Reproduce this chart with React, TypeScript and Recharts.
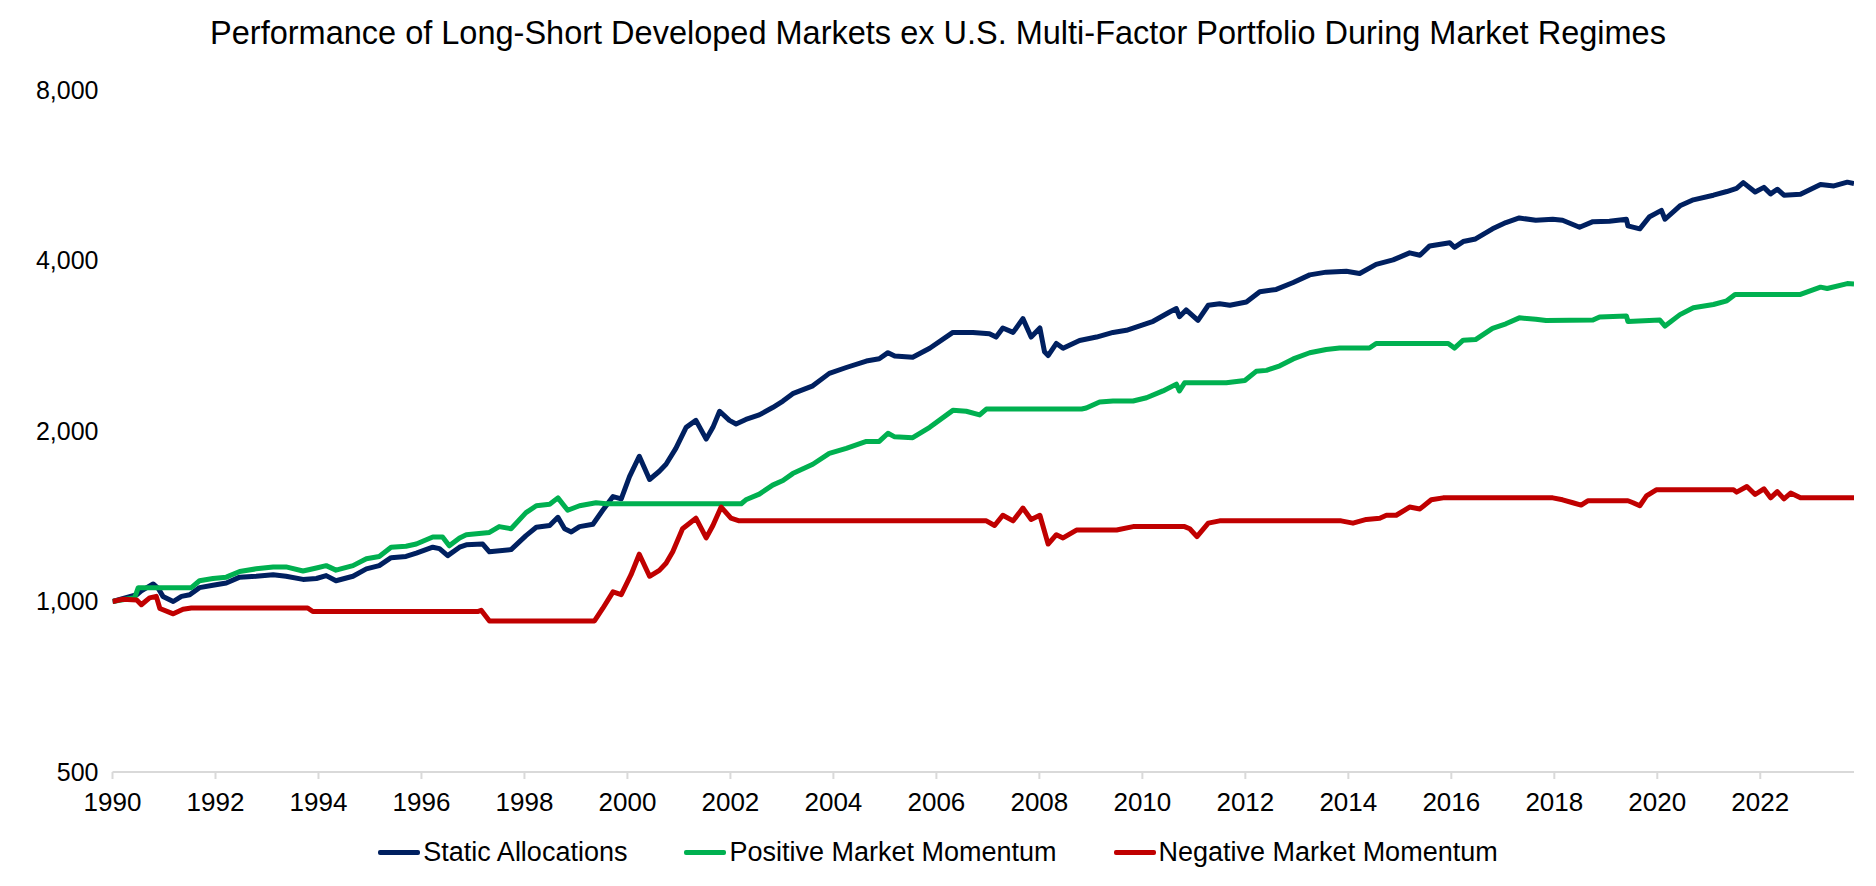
import React from 'react';
import { LineChart, Line, XAxis, YAxis } from 'recharts';

const NAVY = '#002060';
const GREEN = '#00B050';
const RED = '#C00000';
const FONT = '"Liberation Sans", Arial, sans-serif';

// x in decimal years (log scale)
const staticYears = [
  1990.0, 1990.47, 1990.56, 1990.79, 1990.89, 1990.98, 1991.18, 1991.34, 1991.5, 1991.69, 1991.95,
  1992.21, 1992.47, 1992.79, 1993.12, 1993.37, 1993.7, 1993.96, 1994.15, 1994.34, 1994.67, 1994.93,
  1995.18, 1995.41, 1995.7, 1995.9, 1996.22, 1996.35, 1996.51, 1996.74, 1996.87, 1997.19, 1997.32,
  1997.74, 1998.03, 1998.23, 1998.49, 1998.65, 1998.78, 1998.91, 1999.07, 1999.33, 1999.52, 1999.72,
  1999.88, 2000.04, 2000.23, 2000.43, 2000.62, 2000.75, 2000.94, 2001.14, 2001.33, 2001.53, 2001.66,
  2001.79, 2001.98, 2002.11, 2002.3, 2002.56, 2002.82, 2003.02, 2003.21, 2003.6, 2003.92, 2004.25,
  2004.64, 2004.89, 2005.06, 2005.19, 2005.54, 2005.87, 2006.32, 2006.71, 2007.03, 2007.16, 2007.29,
  2007.49, 2007.68, 2007.84, 2008.01, 2008.1, 2008.17, 2008.33, 2008.46, 2008.78, 2009.11, 2009.43,
  2009.69, 2009.95, 2010.21, 2010.53, 2010.66, 2010.72, 2010.85, 2011.08, 2011.28, 2011.5, 2011.7,
  2012.02, 2012.28, 2012.6, 2012.93, 2013.25, 2013.57, 2013.96, 2014.22, 2014.54, 2014.87, 2015.19,
  2015.39, 2015.58, 2015.97, 2016.06, 2016.23, 2016.47, 2016.8, 2017.06, 2017.32, 2017.64, 2017.97,
  2018.16, 2018.49, 2018.75, 2019.07, 2019.4, 2019.43, 2019.66, 2019.85, 2020.08, 2020.15, 2020.44,
  2020.7, 2021.09, 2021.35, 2021.54, 2021.67, 2021.9, 2022.07, 2022.2, 2022.33, 2022.46, 2022.78,
  2022.98, 2023.17, 2023.43, 2023.69, 2023.82,
];
const staticValues = [
  1000, 1028, 1044, 1074, 1054, 1021, 1000, 1021, 1028, 1058, 1068,
  1078, 1104, 1108, 1115, 1108, 1094, 1098, 1111, 1088, 1108, 1142,
  1157, 1195, 1201, 1217, 1247, 1240, 1205, 1247, 1259, 1263, 1224,
  1235, 1307, 1352, 1362, 1408, 1344, 1327, 1356, 1369, 1449, 1532,
  1518, 1661, 1805, 1642, 1698, 1747, 1864, 2030, 2088, 1935, 2030,
  2167, 2088, 2058, 2096, 2135, 2200, 2259, 2328, 2403, 2528, 2589,
  2658, 2682, 2750, 2713, 2700, 2800, 2986, 2986, 2970, 2930, 3040,
  2986, 3158, 2930, 3040, 2759, 2718, 2855, 2800, 2890, 2930, 2986,
  3012, 3066, 3124, 3244, 3290, 3183, 3272, 3135, 3335, 3354, 3335,
  3378, 3524, 3556, 3657, 3773, 3815, 3829, 3794, 3937, 4010, 4126,
  4087, 4244, 4300, 4220, 4320, 4366, 4550, 4667, 4755, 4711, 4730,
  4711, 4578, 4684, 4693, 4730, 4605, 4550, 4780, 4904, 4730, 4996,
  5119, 5216, 5295, 5364, 5489, 5285, 5385, 5245, 5345, 5216, 5235,
  5345, 5447, 5416, 5500, 5468,
];

const positiveYears = [
  1990.0, 1990.43, 1990.5, 1991.53, 1991.69, 1991.95, 1992.21, 1992.47, 1992.79, 1993.12, 1993.37,
  1993.7, 1993.96, 1994.15, 1994.34, 1994.67, 1994.93, 1995.18, 1995.41, 1995.7, 1995.9, 1996.22,
  1996.41, 1996.54, 1996.74, 1996.87, 1997.32, 1997.51, 1997.74, 1998.03, 1998.23, 1998.49, 1998.65,
  1998.84, 1999.07, 1999.39, 1999.59, 2002.21, 2002.3, 2002.56, 2002.82, 2003.02, 2003.21, 2003.6,
  2003.92, 2004.25, 2004.64, 2004.89, 2005.06, 2005.19, 2005.54, 2005.87, 2006.32, 2006.58, 2006.84,
  2006.97, 2008.82, 2008.91, 2009.17, 2009.43, 2009.82, 2010.08, 2010.4, 2010.66, 2010.72, 2010.82,
  2011.63, 2011.99, 2012.21, 2012.41, 2012.67, 2012.93, 2013.25, 2013.57, 2013.83, 2014.41, 2014.54,
  2015.94, 2016.06, 2016.23, 2016.47, 2016.8, 2017.06, 2017.32, 2017.64, 2017.84, 2018.75, 2018.88,
  2019.4, 2019.43, 2020.05, 2020.15, 2020.44, 2020.7, 2021.09, 2021.35, 2021.51, 2022.78, 2023.17,
  2023.3, 2023.69, 2023.82,
];
const positiveValues = [
  1000, 1015, 1058, 1058, 1088, 1098, 1104, 1130, 1142, 1151, 1151,
  1132, 1146, 1157, 1136, 1157, 1190, 1201, 1247, 1252, 1263, 1300,
  1300, 1254, 1295, 1312, 1324, 1356, 1344, 1435, 1476, 1485, 1524,
  1449, 1476, 1494, 1488, 1488, 1512, 1547, 1605, 1635, 1682, 1747,
  1826, 1864, 1917, 1917, 1982, 1953, 1946, 2030, 2175, 2167, 2135,
  2187, 2187, 2196, 2251, 2259, 2259, 2289, 2354, 2420, 2354, 2433,
  2433, 2456, 2549, 2559, 2607, 2681, 2749, 2786, 2802, 2802, 2855,
  2855, 2802, 2893, 2900, 3036, 3092, 3168, 3150, 3133, 3140, 3180,
  3192, 3121, 3140, 3064, 3210, 3301, 3345, 3395, 3484, 3484, 3589,
  3569, 3642, 3636,
];

const negativeYears = [
  1990.0, 1990.2, 1990.47, 1990.56, 1990.72, 1990.85, 1990.92, 1991.18, 1991.37, 1991.53, 1993.79,
  1993.89, 1997.09, 1997.16, 1997.32, 1999.36, 1999.52, 1999.72, 1999.88, 2000.07, 2000.23, 2000.43,
  2000.62, 2000.75, 2000.88, 2001.07, 2001.33, 2001.53, 2001.66, 2001.82, 2002.01, 2002.17, 2006.97,
  2007.13, 2007.29, 2007.49, 2007.68, 2007.84, 2008.01, 2008.17, 2008.33, 2008.46, 2008.72, 2009.5,
  2009.82, 2010.82, 2010.92, 2011.06, 2011.28, 2011.5, 2013.86, 2014.09, 2014.35, 2014.61, 2014.74,
  2014.93, 2015.19, 2015.39, 2015.61, 2015.84, 2017.97, 2018.16, 2018.36, 2018.52, 2018.65, 2019.43,
  2019.53, 2019.66, 2019.79, 2019.98, 2021.48, 2021.54, 2021.74, 2021.9, 2022.07, 2022.2, 2022.33,
  2022.46, 2022.59, 2022.78, 2023.82,
];
const negativeValues = [
  1000, 1009, 1006, 987, 1015, 1021, 972, 951, 969, 974, 974,
  960, 960, 965, 924, 924, 972, 1040, 1028, 1115, 1212, 1108,
  1135, 1168, 1224, 1344, 1403, 1295, 1362, 1468, 1403, 1388, 1388,
  1362, 1420, 1388, 1462, 1396, 1420, 1263, 1312, 1295, 1337, 1337,
  1356, 1356, 1344, 1302, 1375, 1388, 1388, 1375, 1396, 1403, 1420,
  1420, 1468, 1457, 1512, 1524, 1524, 1512, 1494, 1480, 1506, 1506,
  1494, 1476, 1536, 1575, 1575, 1560, 1596, 1545, 1581, 1524, 1563,
  1518, 1554, 1524, 1524,
];

const yearTicks = [
  1990, 1992, 1994, 1996, 1998, 2000, 2002, 2004, 2006, 2008, 2010, 2012, 2014, 2016, 2018, 2020, 2022,
];
const valueTicks = [500, 1000, 2000, 4000, 8000];

const seriesNames = ['Static Allocations', 'Positive Market Momentum', 'Negative Market Momentum'];
const seriesColors = [NAVY, GREEN, RED];

const toRows = (years: number[], values: number[]) =>
  years.map((year, i) => ({ year, value: values[i] }));

const App: React.FC = () => {
  const series = [
    toRows(staticYears, staticValues),
    toRows(positiveYears, positiveValues),
    toRows(negativeYears, negativeValues),
  ];

  return (
    <div
      style={{
        position: 'absolute',
        left: 0,
        top: 0,
        width: 1876,
        height: 886,
        background: '#fff',
        fontFamily: FONT,
      }}
    >
      <div
        style={{
          position: 'absolute',
          top: 17,
          left: 0,
          width: 1876,
          textAlign: 'center',
          fontSize: 32.5,
          lineHeight: '32.5px',
          color: '#000',
          whiteSpace: 'nowrap',
        }}
      >
        Performance of Long-Short Developed Markets ex U.S. Multi-Factor Portfolio During Market Regimes
      </div>

      <LineChart width={1876} height={886} margin={{ top: 90, right: 22, bottom: 0, left: 0 }}>
        <XAxis
          type="number"
          dataKey="year"
          domain={[1990, 2023.82]}
          ticks={yearTicks}
          allowDataOverflow
          height={114}
          stroke="#D9D9D9"
          strokeWidth={2}
          tickSize={7}
          tickMargin={14}
          tick={{ fill: '#000', fontSize: 26, fontFamily: FONT }}
        />
        <YAxis
          type="number"
          scale="log"
          domain={[500, 8000]}
          ticks={valueTicks}
          allowDataOverflow
          width={112.5}
          axisLine={false}
          tickLine={false}
          tickSize={0}
          tickMargin={14}
          tickFormatter={(v: number) => v.toLocaleString('en-US')}
          tick={{ fill: '#000', fontSize: 25, fontFamily: FONT }}
        />
        {series.map((rows, i) => (
          <Line
            key={seriesNames[i]}
            data={rows}
            dataKey="value"
            name={seriesNames[i]}
            type="linear"
            stroke={seriesColors[i]}
            strokeWidth={5}
            strokeLinejoin="round"
            dot={false}
            activeDot={false}
            isAnimationActive={false}
          />
        ))}
      </LineChart>

      <div
        style={{
          position: 'absolute',
          top: 839,
          left: 0,
          width: 1876,
          display: 'flex',
          justifyContent: 'center',
          gap: 57,
          fontSize: 27,
          lineHeight: '27px',
          color: '#000',
        }}
      >
        {seriesNames.map((name, i) => (
          <div key={name} style={{ display: 'flex', alignItems: 'center' }}>
            <span
              style={{
                display: 'inline-block',
                width: 42,
                height: 5,
                borderRadius: 2,
                background: seriesColors[i],
                marginRight: 3,
              }}
            />
            <span>{name}</span>
          </div>
        ))}
      </div>
    </div>
  );
};

export default App;
